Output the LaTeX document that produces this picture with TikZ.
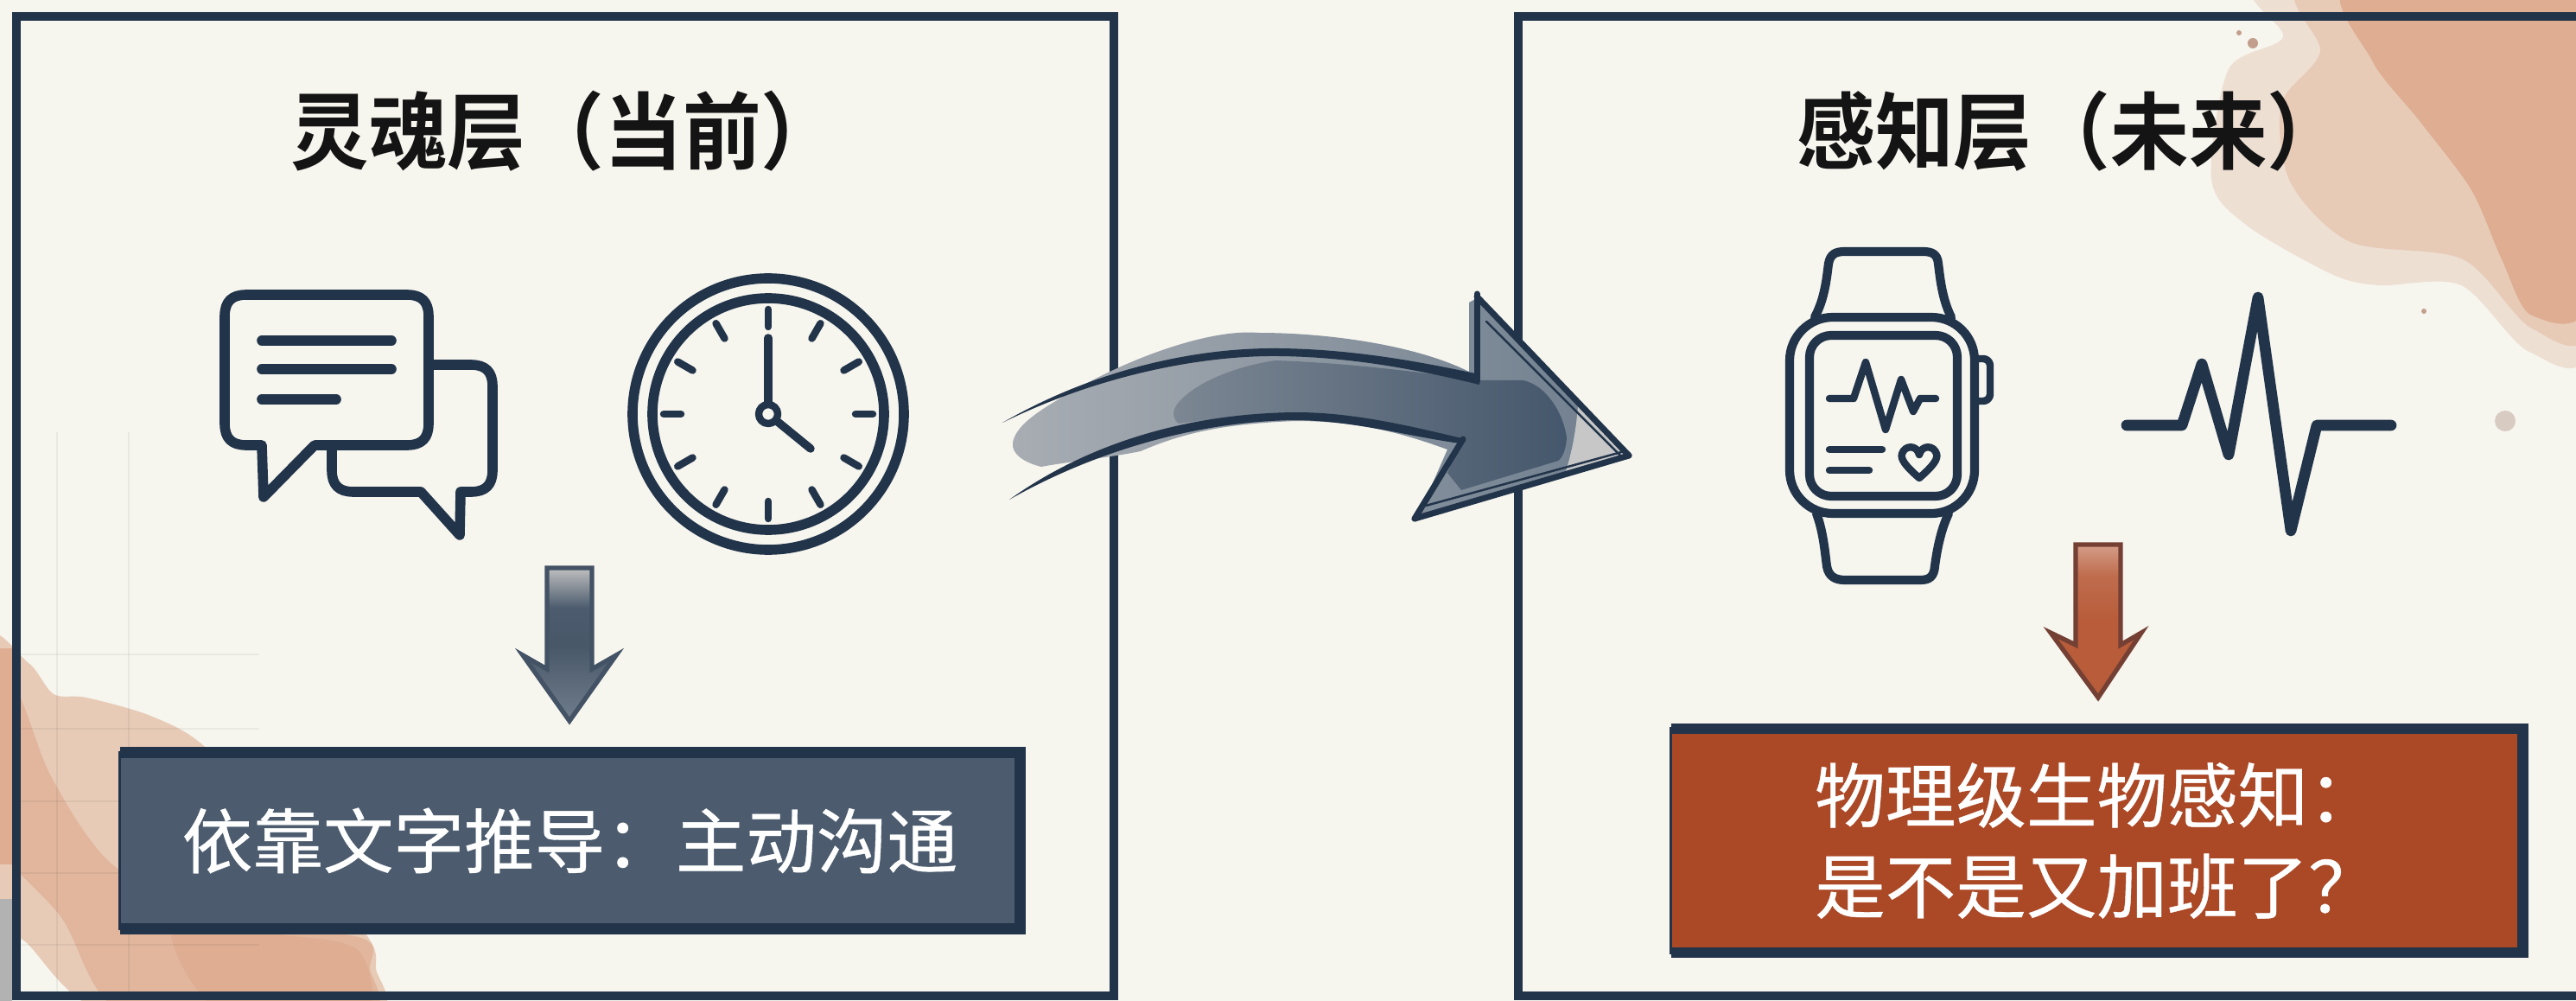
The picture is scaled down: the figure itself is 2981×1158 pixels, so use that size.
\documentclass[tikz,border=0pt]{standalone}
\usepackage{fontspec}
\usepackage{tikz}
\usetikzlibrary{arrows.meta, positioning, calc}
\newfontfamily\cjk[BoldFont={Noto Sans CJK SC Bold}]{Noto Sans CJK SC}
\newfontfamily\cjkmed[FakeBold=0.5]{Noto Sans CJK SC}
\definecolor{paper}{HTML}{F6F5EE}
\definecolor{navy}{HTML}{22344A}
\definecolor{slate}{HTML}{4C5C6E}
\definecolor{rust}{HTML}{AB4826}
\definecolor{clay}{HTML}{B85C3A}
\definecolor{washpale}{HTML}{EEDFD3}
\definecolor{washmid}{HTML}{E7CBB7}
\definecolor{washdeep}{HTML}{DEAD92}
\definecolor{inkpale}{HTML}{A8ADB3}
\definecolor{inkpaler}{HTML}{6F7E8E}
\definecolor{inkmid}{HTML}{7C8793}
\definecolor{inkdeep}{HTML}{45576C}
\pgfdeclareverticalshading{slatefade}{100bp}{color(0bp)=(slate!80!white); color(25bp)=(slate!80!white); color(50bp)=(slate!95!black);
    color(62bp)=(slate); color(75bp)=(black!25); color(100bp)=(black!25)}
\pgfdeclareverticalshading{rustfade}{100bp}{color(0bp)=(clay); color(50bp)=(clay); color(65bp)=(clay!90!white);
    color(75bp)=(clay!60!white); color(100bp)=(clay!60!white)}

\begin{document}
\begin{tikzpicture}[
    x=0.01cm, y=-0.01cm,
    panel/.style={draw=navy, line width=2.9pt, inner sep=0pt, outer sep=0pt},
    panelline/.style={draw=navy, line width=2.9pt},
    title/.style={font=\cjk\bfseries\fontsize{27.6}{33}\selectfont, text=black!92, inner sep=0pt, xscale=0.935},
    factbox/.style={draw=navy, line width=1pt, inner sep=0pt, outer sep=0pt, align=center,
        text=white, font=\cjkmed\fontsize{23.2}{29.9}\selectfont},
    boxedge/.style={draw=navy, line width=3.6pt},
    icon/.style={draw=navy, line width=3.3pt, line cap=round, line join=round},
    iconthin/.style={draw=navy, line width=2.4pt, line cap=round, line join=round},
    sketch/.style={draw=navy, line width=2pt, line cap=round},
    inkfill/.style={fill=navy},
    blockarr/.style={line width=1.5pt, line join=miter},
    gridline/.style={draw=black, opacity=0.05, line width=0.6pt},
    speck/.style={fill=#1}
]
    \useasboundingbox (0,0) rectangle (2981,1158);
    \fill[paper] (0,0) rectangle (2981,1158);

    \begin{scope}
        \clip (0,0) rectangle (2981,1158);
        % watercolour corners
        \fill[washmid] plot[smooth cycle] coordinates {(-20,745) (33,767) (62,803) (100,807) (174,828)
            (236,863) (320,960) (423,1080) (435,1120) (427,1175) (133,1175) (30,1090) (-20,1040)};
        \fill[washdeep!70!washmid] plot[smooth cycle] coordinates {(-20,770) (20,800) (60,900) (130,1000) (250,1060)
            (418,1085) (428,1120) (420,1175) (150,1175) (70,1060) (-20,950)};
        \fill[washdeep] plot[smooth cycle] coordinates {(200,1075) (330,1082) (415,1100) (420,1175) (260,1175)};
        \fill[washdeep] (0,750) rectangle (16,1000);
        \fill[black!30] (0,1040) rectangle (14,1158);
        \fill[washpale] plot[smooth cycle] coordinates {(2622,-20) (2642,43) (2579,80) (2559,207) (2599,260)
            (2698,317) (2753,330) (2848,330) (2927,407) (3000,393) (3000,-20)};
        \fill[washmid] plot[smooth cycle] coordinates {(2670,-20) (2685,60) (2640,120) (2650,210) (2720,280)
            (2850,300) (2930,380) (3000,370) (3000,-20)};
        \fill[washdeep] plot[smooth cycle] coordinates {(2720,-20) (2745,70) (2800,140) (2860,220) (2895,300) (2930,365)
            (3000,340) (3000,-20)};
        \fill[speck=washdeep!70!gray] (2607,50) circle (6);
        \fill[speck=washdeep!70!gray] (2591,38) circle (3);
        \fill[speck=washdeep!70!gray] (2805,360) circle (3);
        \fill[speck=washpale!80!gray] (2899,487) circle (12);
        \foreach \gx in {66,149} \draw[gridline] (\gx,500) -- (\gx,1152);
        \foreach \gy in {757,843,927,1010,1093} \draw[gridline] (20,\gy) -- (300,\gy);
    \end{scope}

    \node[panel, minimum width=12.7cm, minimum height=11.33cm] (soul) at (654,585.5) {};
    \coordinate (sensetr) at (2981,19);
    \coordinate (sensebr) at (2981,1152);
    \draw[panelline] (sensetr) -- (1757,19) -- (1757,1152) -- (sensebr);

    \node[title] (soultt) at (654,152) {灵魂层（当前）};
    \node[title] (sensett) at (2397,152) {感知层（未来）};

    % chat bubbles
    \draw[icon] (496,422) -- (545,422) .. controls (562,422) and (570,430) .. (570,447) -- (570,544)
        .. controls (570,561) and (562,569) .. (545,569) -- (533,569) -- (532,619) -- (487,569) -- (409,569)
        .. controls (392,569) and (384,561) .. (384,544) -- (384,515);
    \draw[icon] (303,515) -- (285,515) .. controls (268,515) and (260,507) .. (260,490) -- (260,366)
        .. controls (260,349) and (268,341) .. (285,341) -- (471,341) .. controls (488,341) and (496,349) .. (496,366)
        -- (496,490) .. controls (496,507) and (488,515) .. (471,515) -- (364,515) -- (305,575) -- cycle;
    \draw[icon] (303,394) -- (453,394);
    \draw[icon] (303,427) -- (453,427);
    \draw[icon] (303,462) -- (389,462);

    % clock
    \coordinate (clk) at (889,479);
    \draw[icon] (clk) circle (157);
    \draw[icon] (clk) circle (134);
    \foreach \ang in {0,30,...,330}
        \draw[iconthin] (clk) ++(\ang:101) -- ++(\ang:20);
    \draw[iconthin, line width=2.7pt] (clk) -- ++(0,-88);
    \draw[iconthin, line width=2.7pt] (clk) -- (938,519);
    \draw[iconthin, fill=paper] (clk) circle (11);

    % watch
    \draw[icon, line width=2.9pt] (2100,367) .. controls (2112,345) and (2114,320) .. (2116,305)
        .. controls (2118,294) and (2124,291) .. (2135,291) -- (2225,291) .. controls (2236,291) and (2242,294) .. (2243,305)
        .. controls (2245,320) and (2247,345) .. (2258,367);
    \draw[icon, line width=2.9pt] (2102,594) .. controls (2110,615) and (2112,640) .. (2114,655)
        .. controls (2116,667) and (2124,671) .. (2135,671) -- (2222,671) .. controls (2233,671) and (2238,667) .. (2239,655)
        .. controls (2241,640) and (2245,615) .. (2255,594);
    \draw[icon, line width=2.9pt, rounded corners=0.5cm] (2071,367) rectangle (2285,594);
    \draw[icon, line width=2.9pt, rounded corners=0.25cm] (2094,388) rectangle (2265,574);
    \draw[iconthin, rounded corners=0.08cm] (2288,415) -- (2303,415) -- (2303,464) -- (2288,464);
    \draw[iconthin] (2117,461) -- (2145,461) -- (2159,419) -- (2182,497) -- (2200,439) -- (2214,476) -- (2222,461) -- (2240,461);
    \draw[iconthin] (2117,520) -- (2178,520);
    \draw[iconthin] (2117,544) -- (2163,544);
    \draw[iconthin] (2221,553) .. controls (2205,539) and (2199,531) .. (2201,525) .. controls (2204,515) and (2218,514) .. (2221,526)
        .. controls (2224,514) and (2238,515) .. (2241,525) .. controls (2243,531) and (2237,539) .. cycle;

    % pulse
    \draw[icon, line width=3.6pt] (2461,492) -- (2525,492) -- (2548,421) -- (2579,526) -- (2613,344) -- (2651,614) -- (2681,492) -- (2767,492);

    % wash of the big arrow
    \shade[left color=inkpale, right color=inkpaler] (1172,512) .. controls (1175,495) and (1195,480) .. (1220,465)
        .. controls (1300,415) and (1400,380) .. (1456,385) .. controls (1540,385) and (1640,400) .. (1700,430)
        -- (1700,350) -- (1709,345) -- (1880,525) -- (1642,595) -- (1675,520) .. controls (1620,500) and (1570,487) .. (1500,487)
        .. controls (1420,490) and (1370,500) .. (1320,522) .. controls (1280,530) and (1230,535) .. (1205,540)
        .. controls (1185,535) and (1170,525) .. cycle;
    \fill[black!22] (1826,470) -- (1880,525) -- (1812,545) .. controls (1820,520) and (1824,495) .. cycle;
    \shade[left color=inkmid, right color=inkdeep] (1359,473) .. controls (1370,450) and (1420,425) .. (1476,417)
        .. controls (1560,420) and (1640,430) .. (1711,440) -- (1762,440) .. controls (1790,445) and (1810,480) .. (1813,507)
        .. controls (1812,520) and (1808,530) .. (1803,533) -- (1691,567) -- (1675,547) -- (1690,510)
        .. controls (1620,495) and (1560,480) .. (1507,480) .. controls (1450,480) and (1400,485) .. (1364,490) .. controls (1358,485) and (1357,480) .. cycle;

    % ink lines of the big arrow
    \fill[inkfill] (1160,489) .. controls (1280,420) and (1400,402) .. (1480,403) .. controls (1570,404) and (1650,420) .. (1712,433)
        -- (1712,445) .. controls (1650,430) and (1570,413) .. (1480,412) .. controls (1400,411) and (1280,430) .. cycle;
    \fill[inkfill] (1168,578) .. controls (1270,505) and (1390,478) .. (1500,477) .. controls (1570,477) and (1640,495) .. (1696,508)
        -- (1690,513) .. controls (1630,505) and (1570,487) .. (1500,486) .. controls (1390,487) and (1270,520) .. cycle;
    \draw[sketch] (1709,340) -- (1709,441);
    \draw[sketch] (1709,343) -- (1885,527);
    \draw[sketch, line width=0.7pt] (1720,372) -- (1878,530);
    \draw[sketch] (1885,527) -- (1637,600);
    \draw[sketch, line width=0.7pt] (1880,522) -- (1650,585);
    \draw[sketch] (1637,600) -- (1693,508);

    % fact boxes
    \node[factbox, fill=slate, minimum width=10.41cm, minimum height=2.04cm] (soulbox) at (659.5,972.5) {依靠文字推导：主动沟通};
    \draw[boxedge] (soulbox.north west) -- (soulbox.north east) -- (soulbox.south east) -- (soulbox.south west);
    \node[factbox, fill=rust, minimum width=9.85cm, minimum height=2.59cm] (sensebox) at (2426.5,972.5) {物理级生物感知：\\是不是又加班了？};
    \draw[boxedge] (sensebox.north west) -- (sensebox.north east) -- (sensebox.south east) -- (sensebox.south west);

    % block arrows
    \shadedraw[draw=navy!85, blockarr, shading=slatefade]
        (633,657) -- (685,657) -- (685,774) -- (713,758) -- (659,834) -- (605,758) -- (633,774) -- cycle;
    \shadedraw[draw=rust!60!navy, blockarr, shading=rustfade]
        (2402,630) -- (2454,630) -- (2454,746) -- (2478,732) -- (2428,807) -- (2373,732) -- (2402,746) -- cycle;
\end{tikzpicture}
\end{document}
